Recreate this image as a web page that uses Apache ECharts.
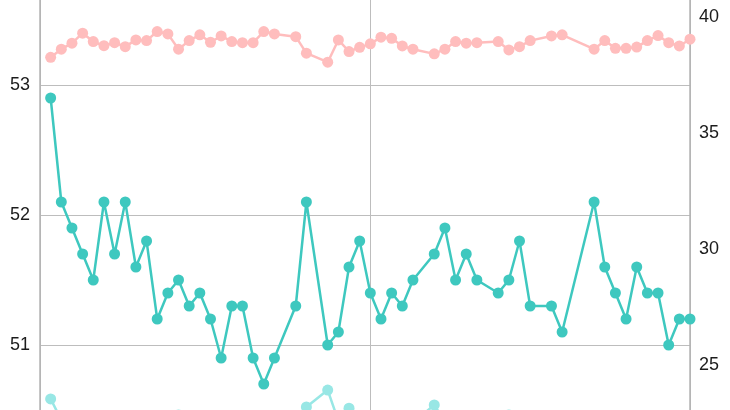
<!DOCTYPE html>
<html>
<head>
<meta charset="utf-8">
<script src="https://cdn.jsdelivr.net/npm/echarts@6/dist/echarts.min.js"></script>
<style>
  html, body { margin: 0; padding: 0; background: #fff; }
  #chart { width: 730px; height: 410px; }
</style>
</head>
<body>
<div id="chart"></div>
<script>
// Day index along the x axis (gaps = missing days)
const days = [1,2,3,4,5,6,7,8,9,10,11,12,13,14,15,16,17,18,19,20,21,22,24,25,27,28,29,30,31,32,33,34,35,37,38,39,40,41,43,44,45,46,48,49,52,53,54,55,56,57,58,59,60,61];

// Teal series (left axis)
const tealValues = [52.9,52.1,51.9,51.7,51.5,52.1,51.7,52.1,51.6,51.8,51.2,51.4,51.5,51.3,51.4,51.2,50.9,51.3,51.3,50.9,50.7,50.9,51.3,52.1,51.0,51.1,51.6,51.8,51.4,51.2,51.4,51.3,51.5,51.7,51.9,51.5,51.7,51.5,51.4,51.5,51.8,51.3,51.3,51.1,52.1,51.6,51.4,51.2,51.6,51.4,51.4,51.0,51.2,51.2];

// Pink series (right axis)
const pinkValues = [38.25,38.60,38.86,39.29,38.93,38.75,38.88,38.71,39.00,38.97,39.36,39.26,38.60,38.97,39.22,38.90,39.17,38.93,38.88,38.88,39.36,39.26,39.14,38.43,38.04,39.00,38.50,38.68,38.83,39.12,39.07,38.74,38.60,38.40,38.60,38.93,38.86,38.88,38.93,38.57,38.71,38.97,39.17,39.22,38.60,38.97,38.64,38.64,38.69,38.97,39.19,38.88,38.74,39.03];

// Light teal series (right axis, mostly below the visible area)
const lightTealValues = [23.53,22.62,22.40,22.30,22.35,22.45,22.30,22.40,22.35,22.50,22.40,22.55,22.84,22.45,22.35,22.40,22.30,22.35,22.40,22.30,22.25,22.35,22.50,23.18,23.91,22.58,23.13,22.50,22.40,22.35,22.45,22.40,22.50,23.27,22.55,22.40,22.45,22.40,22.50,22.84,22.45,22.40,22.35,22.40,22.45,22.40,22.35,22.40,22.45,22.40,22.35,22.40,22.45,22.40];

const leftTicks = { min: 50, max: 54, interval: 1 };
const rightRange = { min: 20.25, max: 42.66 };

function pairs(vals) { return days.map((d, i) => [d, vals[i]]); }

const chart = echarts.init(document.getElementById('chart'), null, { renderer: 'canvas' });
const labelFont = { fontSize: 18, color: '#1c1c1c', fontFamily: '"Liberation Sans", Arial, sans-serif' };

chart.setOption({
  animation: false,
  backgroundColor: '#ffffff',
  grid: { left: 40, right: 40, top: -45, height: 520, outerBoundsMode: 'none', containLabel: false },
  xAxis: {
    type: 'value', min: 0, max: 61, interval: 31,
    axisLine: { show: false }, axisTick: { show: false }, axisLabel: { show: false },
    splitLine: { show: true, lineStyle: { color: '#bdbdbd', width: 1 } }
  },
  yAxis: [
    {
      type: 'value', position: 'left', min: leftTicks.min, max: leftTicks.max, interval: leftTicks.interval,
      axisLine: { show: true, lineStyle: { color: '#b3b3b3', width: 1.5 } },
      axisTick: { show: false },
      axisLabel: Object.assign({ margin: 10 }, labelFont),
      splitLine: { show: true, lineStyle: { color: '#bdbdbd', width: 1 } }
    },
    {
      type: 'value', position: 'right', min: rightRange.min, max: rightRange.max, splitNumber: 5,
      axisLine: { show: true, lineStyle: { color: '#b3b3b3', width: 1.5 } },
      axisTick: { show: false },
      axisLabel: Object.assign({ margin: 9, showMinLabel: false, showMaxLabel: false }, labelFont),
      splitLine: { show: false }
    }
  ],
  series: [
    {
      type: 'line', yAxisIndex: 1, data: pairs(pinkValues),
      symbol: 'circle', symbolSize: 11,
      lineStyle: { color: '#ffbdbd', width: 2.5 },
      itemStyle: { color: '#ffbdbd' }, z: 2
    },
    {
      type: 'line', yAxisIndex: 1, data: pairs(lightTealValues),
      symbol: 'circle', symbolSize: 11,
      lineStyle: { color: '#98e7e5', width: 2.5 },
      itemStyle: { color: '#98e7e5' }, z: 2
    },
    {
      type: 'line', yAxisIndex: 0, data: pairs(tealValues),
      symbol: 'circle', symbolSize: 11,
      lineStyle: { color: '#3ec8bf', width: 2.5 },
      itemStyle: { color: '#3ec8bf' }, z: 3
    }
  ]
});
</script>
</body>
</html>
